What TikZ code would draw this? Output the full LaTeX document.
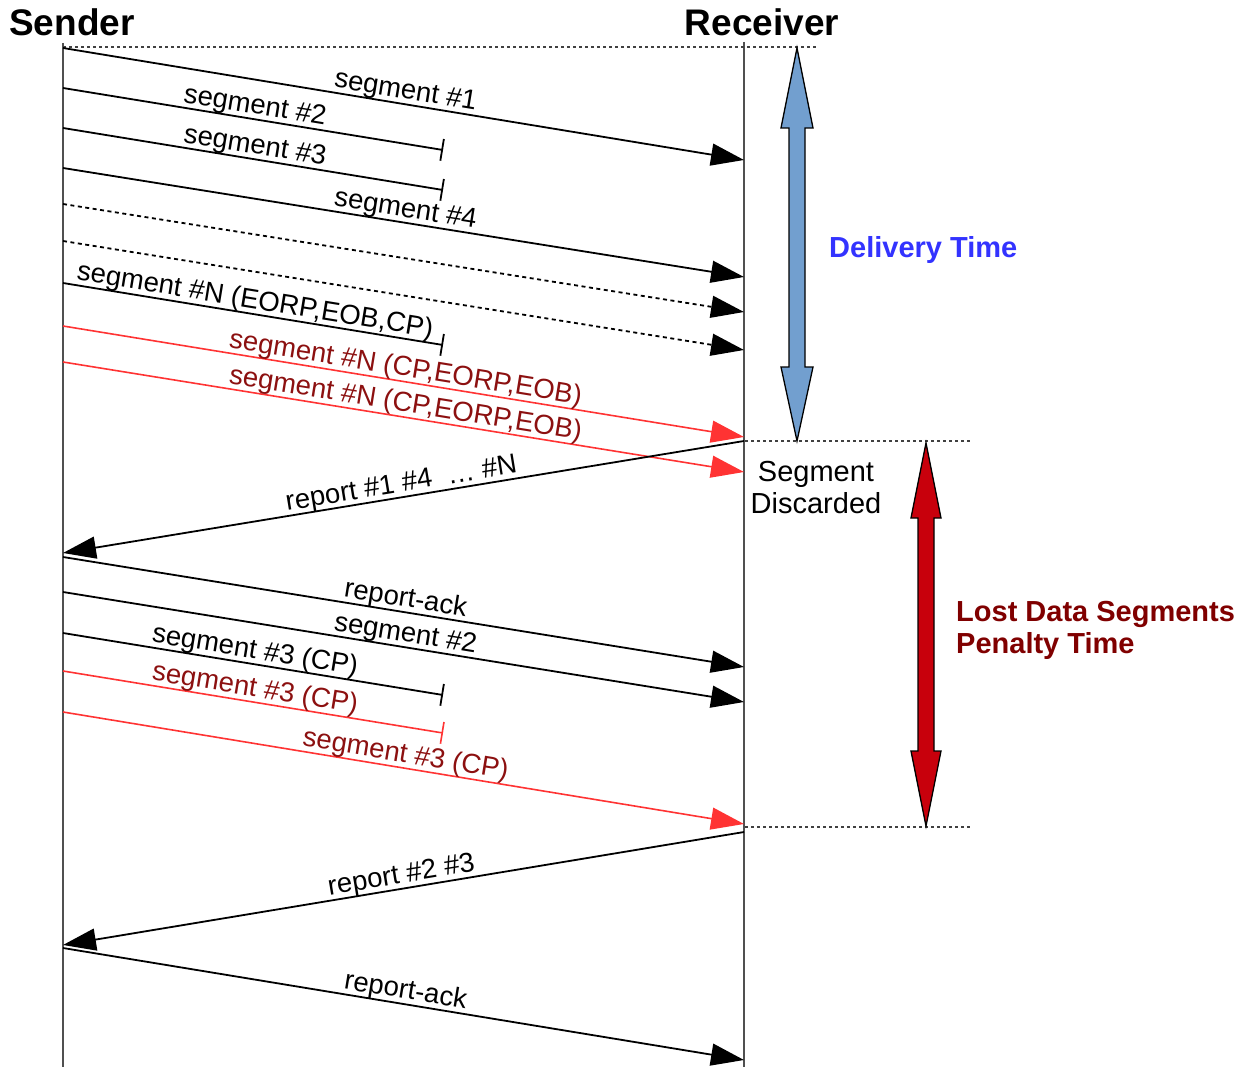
\documentclass[tikz,border=0pt]{standalone}
\usepackage{fontspec}
\setmainfont{Liberation Sans}
\usetikzlibrary{arrows.meta}

\definecolor{lostred}{RGB}{255,51,51}
\definecolor{lostlabel}{RGB}{140,16,16}
\definecolor{lifegray}{RGB}{80,80,80}
\definecolor{delivfill}{RGB}{114,159,207}
\definecolor{delivtext}{RGB}{51,51,255}
\definecolor{penaltyfill}{RGB}{200,0,12}
\definecolor{penaltytext}{RGB}{128,0,0}

\tikzset{
  msg/.style={line width=1.8pt, black},
  sendto/.style={msg, -{Triangle[length=33pt,width=22pt]}},
  recvfrom/.style={msg, {Triangle[length=33pt,width=22pt]}-},
  lostmsg/.style={msg, -{Bar[width=22pt]}},
  dotmsg/.style={sendto, dash pattern=on 4pt off 3.5pt},
  redmsg/.style={line width=1.6pt, lostred, -{Triangle[length=33pt,width=22pt]}},
  redlost/.style={line width=1.6pt, lostred, -{Bar[width=22pt]}},
  lbl/.style={sloped, above=5.5pt, anchor=base, inner sep=0pt,
              font=\fontsize{27.5}{33}\selectfont, text=black},
  redlbl/.style={lbl, text=lostlabel},
  lifelinestyle/.style={line width=2pt, lifegray},
  guide/.style={line width=1.3pt, black!75, dash pattern=on 3pt off 3pt},
  header/.style={font=\bfseries\fontsize{37}{40}\selectfont, anchor=base, inner sep=0pt},
  note/.style={font=\bfseries\fontsize{29}{32}\selectfont, anchor=west, inner sep=0pt, align=left},
  spanarrow/.style={line width=1.3pt, draw=black, line join=miter},
}

\begin{document}
\begin{tikzpicture}[x=1pt, y=-1pt]
\useasboundingbox (0,0) rectangle (1250,1067);

% headers
\node[header] (sender) at (72,36) {Sender};
\node[header] (receiver) at (762,36) {Receiver};

% lifelines
\coordinate (sTop) at (63,43);   \coordinate (sBot) at (63,1067);
\coordinate (rTop) at (744,42);  \coordinate (rBot) at (744,1067);
\draw[lifelinestyle] (sTop) -- (sBot);
\draw[lifelinestyle] (rTop) -- (rBot);

% time guides
\coordinate (g0a) at (63,47);   \coordinate (g0b) at (818,47);
\coordinate (g1a) at (745,441); \coordinate (g1b) at (972,441);
\coordinate (g2a) at (745,827); \coordinate (g2b) at (972,827);
\draw[guide] (g0a) -- (g0b);
\draw[guide] (g1a) -- (g1b);
\draw[guide] (g2a) -- (g2b);

% message end points
\coordinate (s01) at (63,48);  \coordinate (r01) at (744,160);
\coordinate (s02) at (63,88);  \coordinate (b02) at (443,150);
\coordinate (s03) at (63,128); \coordinate (b03) at (443,190);
\coordinate (s04) at (63,168); \coordinate (r04) at (744,277);
\coordinate (s05) at (63,204); \coordinate (r05) at (744,312);
\coordinate (s06) at (63,241); \coordinate (r06) at (744,350);
\coordinate (s07) at (63,283); \coordinate (b07) at (443,345);
\coordinate (s08) at (63,326); \coordinate (r08) at (744,437);
\coordinate (s09) at (63,362); \coordinate (r09) at (744,472);
\coordinate (s10) at (63,553); \coordinate (r10) at (744,441);
\coordinate (s11) at (63,557); \coordinate (r11) at (744,667);
\coordinate (s12) at (63,592); \coordinate (r12) at (744,702);
\coordinate (s13) at (63,633); \coordinate (b13) at (443,695);
\coordinate (s14) at (63,671); \coordinate (b14) at (443,733);
\coordinate (s15) at (63,712); \coordinate (r15) at (744,824);
\coordinate (s16) at (63,945); \coordinate (r16) at (744,832);
\coordinate (s17) at (63,948); \coordinate (r17) at (744,1060);

% first transmission
\draw[sendto]  (s01) -- node[lbl] {segment \#1} (r01);
\draw[lostmsg] (s02) -- node[lbl] {segment \#2} (b02);
\draw[lostmsg] (s03) -- node[lbl] {segment \#3} (b03);
\draw[sendto]  (s04) -- node[lbl] {segment \#4} (r04);
\draw[dotmsg]  (s05) -- (r05);
\draw[dotmsg]  (s06) -- (r06);
\draw[lostmsg] (s07) -- node[lbl] {segment \#N (EORP,EOB,CP)} (b07);
\draw[redmsg]  (s08) -- node[redlbl] {segment \#N (CP,EORP,EOB)} (r08);
\draw[redmsg]  (s09) -- node[redlbl] {segment \#N (CP,EORP,EOB)} (r09);

% first report
\draw[recvfrom] (s10) -- node[lbl] {report \#1 \#4\ \ …\ \#N} (r10);

% retransmission
\draw[sendto]  (s11) -- node[lbl] {report-ack} (r11);
\draw[sendto]  (s12) -- node[lbl] {segment \#2} (r12);
\draw[lostmsg] (s13) -- node[lbl] {segment \#3 (CP)} (b13);
\draw[redlost] (s14) -- node[redlbl] {segment \#3 (CP)} (b14);
\draw[redmsg]  (s15) -- node[redlbl] {segment \#3 (CP)} (r15);

% second report
\draw[recvfrom] (s16) -- node[lbl] {report \#2 \#3} (r16);
\draw[sendto]   (s17) -- node[lbl] {report-ack} (r17);

% delivery time span
\filldraw[spanarrow, fill=delivfill]
  (797,48) -- (813,128) -- (805,128) -- (805,367) -- (813,367) -- (797,441)
  -- (781,367) -- (789,367) -- (789,128) -- (781,128) -- cycle;
\node[note, text=delivtext] (delivery) at (829,250) {Delivery Time};

% penalty span
\filldraw[spanarrow, fill=penaltyfill]
  (926,443) -- (941,518) -- (934,518) -- (934,751) -- (941,751) -- (926,826)
  -- (911,751) -- (918,751) -- (918,518) -- (911,518) -- cycle;
\node[note, text=penaltytext] (penalty) at (956,630) {Lost Data Segments\\Penalty Time};

% discarded note
\node[font=\fontsize{29}{32}\selectfont, align=center, inner sep=0pt] (discard) at (816,488) {Segment\\Discarded};
\end{tikzpicture}
\end{document}
